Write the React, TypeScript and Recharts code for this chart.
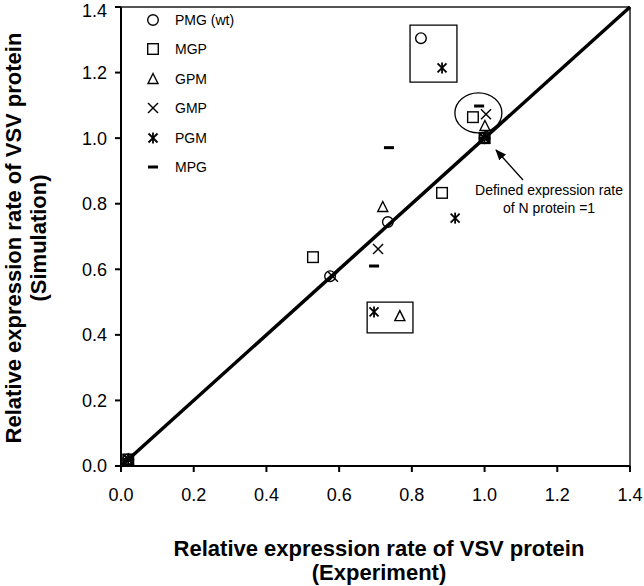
import {
  ScatterChart,
  Scatter,
  XAxis,
  YAxis,
  Legend,
  ReferenceLine,
  ReferenceArea,
  ReferenceDot,
} from 'recharts';

// series names (legend order)
const seriesNames = ['PMG (wt)', 'MGP', 'GPM', 'GMP', 'PGM', 'MPG'];
const seriesShapes = ['circle', 'square', 'triangle', 'x', 'asterisk', 'dash'];

// experiment (x) / simulation (y) values per gene order
const pmgX = [0.02, 0.575, 0.734, 0.825, 1.0];
const pmgY = [0.02, 0.579, 0.744, 1.305, 1.0];
const mgpX = [0.02, 0.528, 0.883, 0.968, 1.0];
const mgpY = [0.02, 0.637, 0.833, 1.064, 1.0];
const gpmX = [0.02, 0.72, 0.767, 1.001, 1.0];
const gpmY = [0.02, 0.79, 0.457, 1.037, 1.0];
const gmpX = [0.02, 0.583, 0.707, 1.004, 1.0];
const gmpY = [0.02, 0.577, 0.662, 1.073, 1.0];
const pgmX = [0.02, 0.696, 0.883, 0.919, 1.0];
const pgmY = [0.02, 0.47, 1.214, 0.756, 1.0];
const mpgX = [0.02, 0.696, 0.737, 0.985, 1.0];
const mpgY = [0.02, 0.61, 0.971, 1.098, 1.0];

const axisTicks = [0, 0.2, 0.4, 0.6, 0.8, 1.0, 1.2, 1.4];

const seriesX = [pmgX, mgpX, gpmX, gmpX, pgmX, mpgX];
const seriesY = [pmgY, mgpY, gpmY, gmpY, pgmY, mpgY];

const FONT = "Arial, 'Liberation Sans', Helvetica, sans-serif";

function Marker({ kind, cx, cy }: { kind: string; cx: number; cy: number }) {
  const s = { fill: 'none', stroke: '#000', strokeWidth: 1.4 };
  switch (kind) {
    case 'circle':
      return <circle cx={cx} cy={cy} r={5.3} {...s} />;
    case 'square':
      return <rect x={cx - 5.3} y={cy - 5.3} width={10.6} height={10.6} {...s} />;
    case 'triangle':
      return (
        <path
          d={`M${cx},${cy - 5.5}L${cx + 5},${cy + 4.5}L${cx - 5},${cy + 4.5}Z`}
          {...s}
        />
      );
    case 'x':
      return (
        <g {...s}>
          <line x1={cx - 5} y1={cy - 5} x2={cx + 5} y2={cy + 5} />
          <line x1={cx - 5} y1={cy + 5} x2={cx + 5} y2={cy - 5} />
        </g>
      );
    case 'asterisk':
      return (
        <g {...s} strokeWidth={1.8}>
          <line x1={cx - 4.5} y1={cy - 4.5} x2={cx + 4.5} y2={cy + 4.5} />
          <line x1={cx - 4.5} y1={cy + 4.5} x2={cx + 4.5} y2={cy - 4.5} />
          <line x1={cx} y1={cy - 5.5} x2={cx} y2={cy + 5.5} />
        </g>
      );
    default:
      return <rect x={cx - 5} y={cy - 1.5} width={10} height={3} fill="#000" />;
  }
}

const renderLegend = () => (
  <div style={{ fontFamily: FONT, fontSize: 14, color: '#000' }}>
    {seriesNames.map((name, i) => (
      <div key={name} style={{ display: 'flex', alignItems: 'center', height: 29.5 }}>
        <svg width={16} height={16} style={{ marginRight: 14 }}>
          <Marker kind={seriesShapes[i]} cx={8} cy={8} />
        </svg>
        <span>{name}</span>
      </div>
    ))}
  </div>
);

export default function App() {
  return (
    <div style={{ position: 'absolute', left: 0, top: 0, width: 644, height: 586, background: '#fff' }}>
      <ScatterChart width={644} height={586} margin={{ top: 7, right: 14, left: 61, bottom: 90 }}>
        <XAxis
          type="number"
          dataKey="x"
          domain={[0, 1.4]}
          ticks={axisTicks}
          tickFormatter={(v: number) => v.toFixed(1)}
          height={30}
          tickSize={6}
          tickMargin={16}
          axisLine={{ stroke: '#000', strokeWidth: 2 }}
          tickLine={{ stroke: '#000', strokeWidth: 2 }}
          tick={{ fill: '#000', fontSize: 18, fontFamily: FONT }}
        />
        <YAxis
          type="number"
          dataKey="y"
          domain={[0, 1.4]}
          ticks={axisTicks}
          tickFormatter={(v: number) => v.toFixed(1)}
          width={60}
          tickSize={6}
          tickMargin={8}
          axisLine={{ stroke: '#000', strokeWidth: 2 }}
          tickLine={{ stroke: '#000', strokeWidth: 2 }}
          tick={{ fill: '#000', fontSize: 18, fontFamily: FONT }}
        />
        <ReferenceLine y={1.4} stroke="#555" strokeWidth={2} />
        <ReferenceLine x={1.4} stroke="#555" strokeWidth={2} />
        <ReferenceLine
          segment={[
            { x: 0, y: 0 },
            { x: 1.4, y: 1.4 },
          ]}
          stroke="#000"
          strokeWidth={3.5}
        />
        <ReferenceArea x1={0.795} x2={0.924} y1={1.171} y2={1.345} fill="none" fillOpacity={0} stroke="#000" strokeWidth={1.3} />
        <ReferenceArea x1={0.677} x2={0.803} y1={0.406} y2={0.5} fill="none" fillOpacity={0} stroke="#000" strokeWidth={1.3} />
        <ReferenceDot
          x={0.983}
          y={1.077}
          shape={(p: any) => (
            <ellipse cx={p.cx} cy={p.cy} rx={23.5} ry={20} fill="none" stroke="#000" strokeWidth={1.3} />
          )}
        />
        {seriesNames.map((name, i) => (
          <Scatter
            key={name}
            name={name}
            data={seriesX[i].map((x, j) => ({ x, y: seriesY[i][j] }))}
            isAnimationActive={false}
            shape={(p: any) => <Marker kind={seriesShapes[i]} cx={p.cx} cy={p.cy} />}
          />
        ))}
        <Legend
          layout="vertical"
          align="center"
          verticalAlign="middle"
          content={renderLegend}
          wrapperStyle={{ left: 145, top: 5, width: 120, height: 180 }}
        />
      </ScatterChart>

      <svg
        width={644}
        height={586}
        style={{ position: 'absolute', left: 0, top: 0, pointerEvents: 'none' }}
        fontFamily={FONT}
      >
        <defs>
          <marker id="ah" markerWidth={11} markerHeight={9} refX={10} refY={4.5} orient="auto" markerUnits="userSpaceOnUse">
            <path d="M0,0L11,4.5L0,9Z" fill="#000" />
          </marker>
        </defs>
        <line x1={523} y1={180} x2={496} y2={150} stroke="#000" strokeWidth={1.3} markerEnd="url(#ah)" />
        <text x={549} y={191} fontSize={14} textAnchor="middle" dominantBaseline="middle">
          Defined expression rate
        </text>
        <text x={549} y={209} fontSize={14} textAnchor="middle" dominantBaseline="middle">
          of N protein =1
        </text>
        <text x={379} y={550} fontSize={22} fontWeight="bold" textAnchor="middle" dominantBaseline="middle">
          Relative expression rate of VSV protein
        </text>
        <text x={379} y={574} fontSize={22} fontWeight="bold" textAnchor="middle" dominantBaseline="middle">
          (Experiment)
        </text>
        <text x={15} y={238} fontSize={22} fontWeight="bold" textAnchor="middle" dominantBaseline="middle" transform="rotate(-90 15 238)">
          Relative expression rate of VSV protein
        </text>
        <text x={40} y={238} fontSize={22} fontWeight="bold" textAnchor="middle" dominantBaseline="middle" transform="rotate(-90 40 238)">
          (Simulation)
        </text>
      </svg>
    </div>
  );
}
